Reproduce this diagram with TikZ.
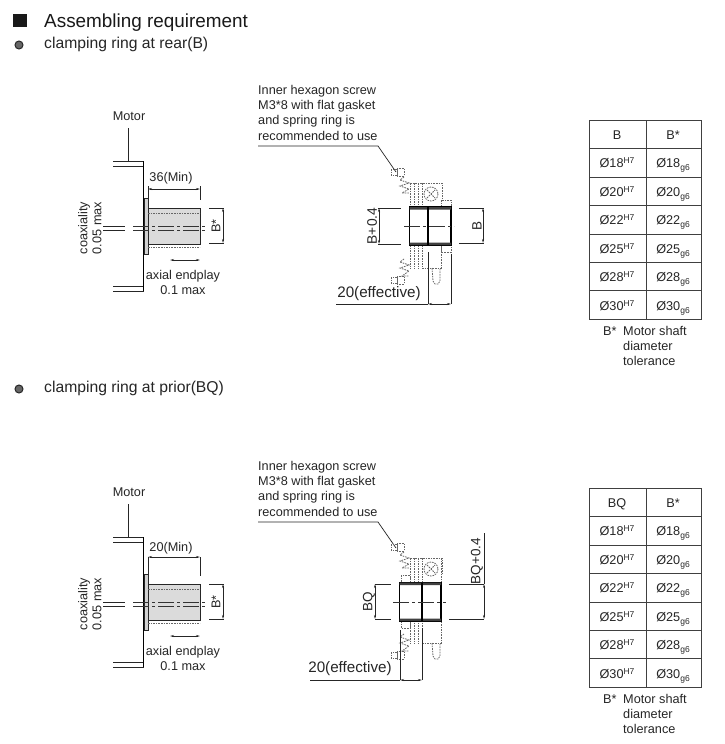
\documentclass[tikz,border=0pt]{standalone}
\usepackage{fontspec}
\setmainfont{Liberation Sans}
\usetikzlibrary{arrows.meta}
\newcommand{\fs}[1]{\fontsize{#1}{#1}\selectfont}
\newcommand{\sups}[1]{\raisebox{4pt}{\fs{8.5}#1}}
\newcommand{\subs}[1]{\raisebox{-3.5pt}{\fs{8.5}#1}}
\tikzset{
  x=1pt,y=-1pt,
  txt/.style={inner sep=0pt,font=\fs{12.7},text=black!85},
  midtxt/.style={inner sep=0pt,font=\fs{15.2},text=black!85},
  heavy/.style={line width=1.3pt,black},
  thin line/.style={line width=0.7pt,black!85},
  dim/.style={line width=0.6pt,black!85,{Stealth[length=4pt,width=2pt]}-{Stealth[length=4pt,width=2pt]}},
  ctr/.style={line width=0.8pt,black!80,dash pattern=on 16pt off 3pt on 3pt off 3pt},
  hid/.style={line width=0.8pt,black!60,dash pattern=on 1.6pt off 1pt},
  cell/.style={inner sep=0pt,anchor=base,font=\fs{12.7},text=black!85},
  grid/.style={line width=0.8pt,black!75},
}
% motor with shaft (everything but the length dimension)
\newcommand{\motorpart}[1]{%
  \node[txt] (motor#1) at (129,116) {Motor};
  \coordinate (mfoot#1) at (128,161);
  \draw[thin line] (128,128) -- (mfoot#1);
  \draw[thin line] (113,161) -- (143.5,161) (113,166) -- (143.5,166)
                   (113,286) -- (143.5,286) (113,291) -- (143.5,291);
  \draw[heavy] (143.5,161) -- (143.5,291);
  \draw[thin line,fill=black!18] (144,198) rectangle (148,254);
  \draw[thin line,fill=black!14] (148,208) rectangle (200,244);
  \draw[hid] (148,213) -- (200,213) (148,247) -- (200,247);
  \draw[thin line] (103,226) -- (125,226) (103,230) -- (125,230);
  \draw[ctr] (133,226) -- (205,226) (133,230) -- (205,230);
  \draw[thin line] (209,208) -- (224,208) (209,243) -- (224,243);
  \draw[dim] (223,208) -- (223,243);
  \node[txt,rotate=90] (bstar#1) at (216,226) {B*};
  \draw[dim] (170,260) -- (200,260);
  \node[txt] (axial#1) at (183,276) {axial endplay};
  \node[txt] (endp#1) at (183,290) {0.1 max};
  \node[txt,rotate=90] (coax#1) at (84,228) {coaxiality};
  \node[txt,rotate=90] (coaxv#1) at (97,228) {0.05 max};
}
% dotted clamp and screws
\newcommand{\clamp}{%
  \draw[hid] (391,169) rectangle (397,175) (397,168) rectangle (404,176);
  \draw[hid] (404,177) -- (400,180) -- (409,183) -- (400,186) -- (409,189) -- (402,193) -- (409,193);
  \draw[hid] (410,183) -- (410,207) (414,183) -- (414,207) (418,183) -- (418,207) (422,183) -- (422,207);
  \draw[hid] (410,183) -- (442,183) -- (442,200);
  \draw[hid] (431,194) circle (7);
  \draw[hid] (427,190) -- (435,198) (427,198) -- (435,190);
  \draw[hid] (410,245) -- (410,269) (414,245) -- (414,269) (418,245) -- (418,269) (422,245) -- (422,269);
  \draw[hid] (404,259) -- (400,262) -- (409,265) -- (400,268) -- (409,271) -- (402,276) -- (409,276);
  \draw[hid] (391,277) rectangle (397,283) (397,276) rectangle (404,284);
  \draw[hid] (422,268) -- (441,268) -- (441,245);
  \draw[hid] (432,268) -- (433,281) -- (435,284) -- (438,284) -- (440,281) -- (440,268);
}
% a table of sizes
\newcommand{\sizetable}[3]{%
  \begin{scope}[yshift=-#1pt]
    \draw[grid] (589,120) rectangle (701,319);
    \draw[grid] (646,120) -- (646,319);
    \foreach \yy in {148,177,205,234,262,290} {\draw[grid] (589,\yy) -- (701,\yy);}
    \node[cell] (h#3a) at (617,139) {#2};
    \node[cell] (h#3b) at (673,139) {B*};
    \foreach \dd/\yy/\rr in {18/167/1,20/196/2,22/224/3,25/253/4,28/281/5,30/310/6} {
      \node[cell] (c#3a\rr) at (617,\yy) {Ø\dd\sups{H7}};
      \node[cell] (c#3b\rr) at (673,\yy) {Ø\dd\subs{g6}};
    }
    \node[txt,anchor=west] (n#3a) at (603,331) {B*};
    \node[txt,anchor=west] (n#3b) at (623,331) {Motor shaft};
    \node[txt,anchor=west] (n#3c) at (623,346) {diameter};
    \node[txt,anchor=west] (n#3d) at (623,361) {tolerance};
  \end{scope}
}
\newcommand{\screwnote}[1]{%
  \node[txt,anchor=west] (sa#1) at (258,91) {Inner hexagon screw};
  \node[txt,anchor=west] (sb#1) at (258,106) {M3*8 with flat gasket};
  \node[txt,anchor=west] (sc#1) at (258,121) {and spring ring is};
  \node[txt,anchor=west] (sd#1) at (258,136) {recommended to use};
  \coordinate (la#1) at (258,146);
  \coordinate (lb#1) at (378,146);
  \coordinate (lc#1) at (396,172);
  \draw[thin line] (la#1) -- (lb#1) -- (lc#1);
}
\begin{document}
\begin{tikzpicture}
\useasboundingbox (0,0) rectangle (725,744);
\fill[white] (0,0) rectangle (725,744);

% headings
\fill[black!90] (13,14) rectangle (27,27);
\node[inner sep=0pt,anchor=west,font=\fs{18.9},text=black!90] (title) at (44,22.5) {Assembling requirement};
\draw[black!85,fill=black!60,line width=1pt] (19,45) circle (4);
\node[inner sep=0pt,anchor=west,font=\fs{15.7},text=black!85] (rear) at (44,44) {clamping ring at rear(B)};
\draw[black!85,fill=black!60,line width=1pt] (19,389) circle (4);
\node[inner sep=0pt,anchor=west,font=\fs{15.7},text=black!85] (prior) at (44,388.5) {clamping ring at prior(BQ)};

% ---------- upper row ----------
\motorpart{A}
\draw[thin line] (148,186) -- (148,198) (200,186) -- (200,200);
\draw[dim] (148,189) -- (200,189);
\node[txt] (minA) at (171,178) {36(Min)};

\screwnote{A}
\clamp
\draw[hid] (441,200) rectangle (451,207) (441,245) rectangle (451,252);
\draw[line width=1.2pt,black] (409.5,207) rectangle (451,245);
\fill[black!75] (409.5,207) rectangle (451,209.5) (409.5,242.5) rectangle (451,245);
\draw[line width=1.2pt,black] (428,207) -- (428,245);
\draw[ctr] (404,226) -- (454,226);
\draw[thin line] (378,208) -- (401,208) (378,244) -- (401,244);
\draw[dim] (379,208) -- (379,244);
\node[txt,rotate=90,font=\fs{13.8}] (bpA) at (372,226) {B+0.4};
\draw[thin line] (459,208) -- (484,208) (459,243) -- (484,243);
\draw[dim] (483,208) -- (483,243);
\node[txt,rotate=90,font=\fs{13.5}] (bA) at (477,226) {B};
\draw[thin line] (336,304) -- (428,304) (428,252) -- (428,304) (451,254) -- (451,304);
\draw[dim] (428,304) -- (451,304);
\node[midtxt] (effA) at (379,294) {20(effective)};

\sizetable{0}{B}{A}

% ---------- lower row ----------
\begin{scope}[yshift=-376pt]
\motorpart{B}
\draw[thin line] (148,181) -- (148,198) (200,181) -- (200,200);
\draw[dim] (148,181) -- (200,181);
\node[txt] (minB) at (171,172) {20(Min)};
\screwnote{B}
\end{scope}

\begin{scope}[yshift=-375pt]
\clamp
\draw[hid] (401,200) rectangle (410,207) (401,246) rectangle (410,253);
\draw[hid] (422,207) -- (441,207) (441,183) -- (441,207);
\end{scope}
\draw[line width=1.2pt,black] (399.5,582.5) rectangle (441,621);
\fill[black!75] (399.5,582.5) rectangle (441,585) (399.5,618.5) rectangle (441,621);
\draw[line width=1.2pt,black] (422,582.5) -- (422,621);
\draw[ctr] (393,602) -- (446,602);
\draw[thin line] (375,584) -- (391,584) (375,619) -- (391,619);
\draw[dim] (375,584) -- (375,619);
\node[txt,rotate=90,font=\fs{13.5}] (bqB) at (369,602) {BQ};
\draw[thin line] (449,584) -- (484,584) (449,619) -- (484,619) (484,533) -- (484,584);
\draw[dim] (484,584) -- (484,619);
\node[txt,rotate=90,font=\fs{13.5}] (bqpB) at (477,561) {BQ+0.4};
\draw[thin line] (310,680) -- (400,680) (400,630) -- (400,680) (422,628) -- (422,680);
\draw[dim] (400,680) -- (422,680);
\node[midtxt] (effB) at (350,669) {20(effective)};

\sizetable{368}{BQ}{B}
\end{tikzpicture}
\end{document}
